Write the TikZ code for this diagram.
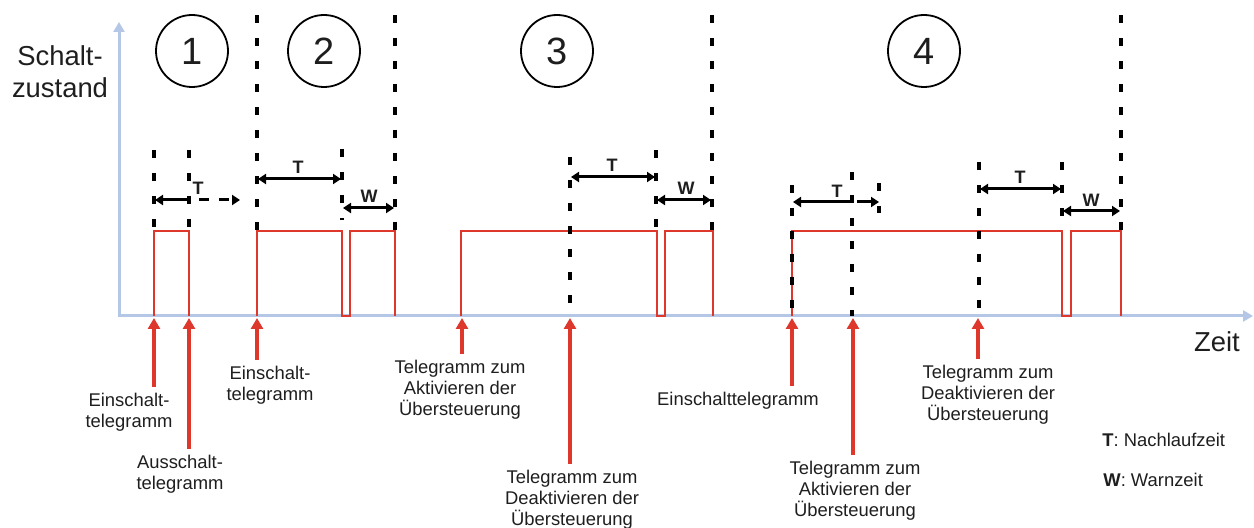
\documentclass[tikz,border=0pt]{standalone}
\usepackage{fontspec}
\setmainfont{Liberation Sans}
\usetikzlibrary{arrows.meta}
\definecolor{AxisBlue}{RGB}{180,199,231}
\definecolor{SignalRed}{RGB}{222,56,45}
\definecolor{TextGray}{RGB}{30,30,30}

\begin{document}
\begin{tikzpicture}[x=0.5pt, y=-0.5pt,
    every node/.style={align=center, text=TextGray, inner sep=1pt, font=\fontsize{9.2}{10.5}\selectfont},
    axis/.style={AxisBlue, line width=1.5pt, -{Triangle[length=5pt,width=5.5pt]}},
    signal/.style={SignalRed, line width=1.1pt},
    marker/.style={line width=1.7pt, dash pattern=on 4pt off 7.5pt},
    dimarrow/.style={line width=1.5pt, {Triangle[length=4pt,width=5pt]}-{Triangle[length=4pt,width=5pt]}},
    halfarrow/.style={line width=1.5pt, -{Triangle[length=4pt,width=5pt]}},
    telarrow/.style={SignalRed, line width=1.7pt, shorten <=2pt, -{Triangle[length=5.5pt,width=6pt]}},
    phase/.style={draw, circle, minimum size=36pt, line width=0.9pt, font=\fontsize{19}{22}\selectfont},
    dimlabel/.style={font=\bfseries\fontsize{9}{10}\selectfont},
    biglabel/.style={font=\fontsize{13.7}{16}\selectfont}]
    \useasboundingbox (0,0) rectangle (1254,528);

    % Achsen
    \draw[axis] (119,317) -- (119,22);
    \draw[axis] (118,316) -- (1253,316);
    \node[biglabel] (ylab) at (60,72) {Schalt-\\zustand};
    \node[biglabel] (xlab) at (1217,342) {Zeit};

    % Phasen
    \node[phase] (p1) at (192,51) {1};
    \node[phase] (p2) at (324,51) {2};
    \node[phase] (p3) at (557,51) {3};
    \node[phase] (p4) at (924,51) {4};

    % Schaltzustand
    \draw[signal] (154,316) -- (154,231) -- (189,231) -- (189,316);
    \draw[signal] (257,316) -- (257,231) -- (342,231) -- (342,316) -- (350,316) -- (350,231) -- (395,231) -- (395,316);
    \draw[signal] (461,316) -- (461,231) -- (657,231) -- (657,316) -- (665,316) -- (665,231) -- (713,231) -- (713,316);
    \draw[signal] (792,316) -- (792,231) -- (1062,231) -- (1062,316) -- (1071,316) -- (1071,231) -- (1121,231) -- (1121,316);

    % Markierungen
    \draw[marker] (154,150) -- (154,230);
    \draw[marker] (189,150) -- (189,230);
    \draw[marker] (257,15) -- (257,230);
    \draw[marker] (342,149) -- (342,220);
    \draw[marker] (395,15) -- (395,230);
    \draw[marker] (570,157) -- (570,316);
    \draw[marker] (656,150) -- (656,230);
    \draw[marker] (712,15) -- (712,230);
    \draw[marker] (792,185) -- (792,316);
    \draw[marker] (852,172) -- (852,316);
    \draw[marker] (879,183) -- (879,213);
    \draw[marker] (979,162) -- (979,316);
    \draw[marker] (1062,162) -- (1062,217);
    \draw[marker] (1121,15) -- (1121,230);

    % Zeiten
    \draw[halfarrow] (189,200) -- (155,200);
    \draw[halfarrow, dash pattern=on 5pt off 5pt] (199,200) -- (240,200);
    \node[dimlabel] (t1) at (198,188) {T};
    \draw[dimarrow] (258,179) -- (341,179);
    \node[dimlabel] (t2) at (298,167) {T};
    \draw[dimarrow] (343,208) -- (394,208);
    \node[dimlabel] (w2) at (369,196) {W};
    \draw[dimarrow] (571,177) -- (655,177);
    \node[dimlabel] (t3) at (612,165) {T};
    \draw[dimarrow] (657,200) -- (711,200);
    \node[dimlabel] (w3) at (686,188) {W};
    \draw[halfarrow] (852,202) -- (793,202);
    \draw[halfarrow] (857,202) -- (879,202);
    \node[dimlabel] (t4a) at (837,191) {T};
    \draw[dimarrow] (980,189) -- (1061,189);
    \node[dimlabel] (t4b) at (1020,177) {T};
    \draw[dimarrow] (1063,211) -- (1120,211);
    \node[dimlabel] (w4) at (1091,200) {W};

    % Telegramme
    \coordinate (e1) at (154,318);
    \coordinate (e2) at (189,318);
    \coordinate (e3) at (257,318);
    \coordinate (e4) at (462,318);
    \coordinate (e5) at (570,318);
    \coordinate (e6) at (792,318);
    \coordinate (e7) at (853,318);
    \coordinate (e8) at (978,318);
    \node (ein1) at (129,412) {Einschalt-\\telegramm};
    \node (aus1) at (180,474) {Ausschalt-\\telegramm};
    \node (ein2) at (270,385) {Einschalt-\\telegramm};
    \node (akt1) at (460,390) {Telegramm zum\\Aktivieren der\\Übersteuerung};
    \node (deakt1) at (572,500) {Telegramm zum\\Deaktivieren der\\Übersteuerung};
    \node (ein3) at (738,401) {Einschalttelegramm};
    \node (akt2) at (855,491) {Telegramm zum\\Aktivieren der\\Übersteuerung};
    \node (deakt2) at (988,395) {Telegramm zum\\Deaktivieren der\\Übersteuerung};
    \draw[telarrow] (ein1.north -| e1) -- (e1);
    \draw[telarrow] (aus1.north -| e2) -- (e2);
    \draw[telarrow] (ein2.north -| e3) -- (e3);
    \draw[telarrow] (akt1.north -| e4) -- (e4);
    \draw[telarrow] (deakt1.north -| e5) -- (e5);
    \draw[telarrow] (ein3.north -| e6) -- (e6);
    \draw[telarrow] (akt2.north -| e7) -- (e7);
    \draw[telarrow] (deakt2.north -| e8) -- (e8);

    % Legende
    \node[anchor=west] (legT) at (1100,440) {\textbf{T}: Nachlaufzeit};
    \node[anchor=west] (legW) at (1101,480) {\textbf{W}: Warnzeit};
\end{tikzpicture}
\end{document}
